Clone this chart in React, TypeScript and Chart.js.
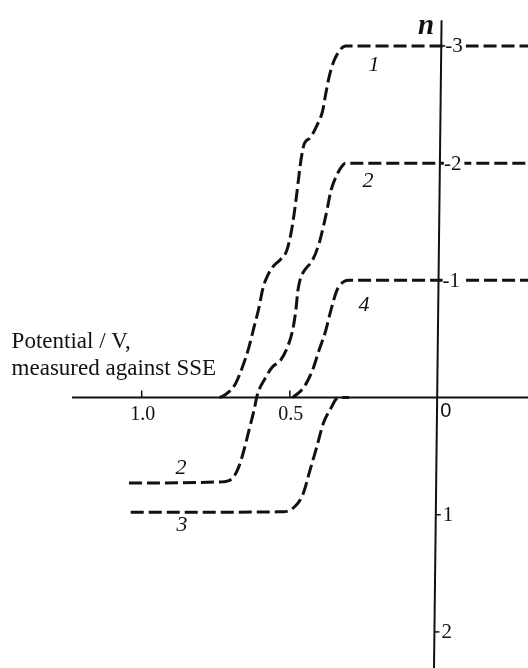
import React, { useEffect, useRef } from "react";
import { Chart, registerables } from "chart.js";

Chart.register(...registerables);

// Potential (V, vs SSE) and n values
const curve1V = [0.737, 0.727, 0.705, 0.683, 0.660, 0.638, 0.621, 0.604, 0.593, 0.582, 0.559, 0.531, 0.511, 0.497, 0.486, 0.477, 0.469, 0.461, 0.452, 0.430, 0.407, 0.390, 0.379, 0.368, 0.356, 0.340, 0.312, -0.31];
const curve1N = [0.0, -0.01, -0.05, -0.12, -0.26, -0.43, -0.60, -0.77, -0.91, -1.00, -1.11, -1.18, -1.25, -1.39, -1.56, -1.73, -1.90, -2.05, -2.16, -2.22, -2.33, -2.44, -2.59, -2.73, -2.84, -2.93, -3.00, -3.00];

const curve2V = [1.043, 0.733, 0.694, 0.672, 0.655, 0.638, 0.621, 0.610, 0.582, 0.559, 0.531, 0.508, 0.491, 0.480, 0.473, 0.466, 0.452, 0.424, 0.402, 0.385, 0.373, 0.362, 0.345, 0.328, 0.312, -0.31];
const curve2N = [0.73, 0.72, 0.69, 0.59, 0.45, 0.28, 0.11, -0.02, -0.17, -0.26, -0.32, -0.43, -0.57, -0.74, -0.91, -1.00, -1.08, -1.17, -1.31, -1.48, -1.62, -1.76, -1.88, -1.96, -2.00, -2.00];

const curve4V = [0.492, 0.475, 0.452, 0.424, 0.402, 0.379, 0.362, 0.342, 0.330, 0.317, 0.300, -0.31];
const curve4N = [0.0, -0.03, -0.09, -0.23, -0.40, -0.57, -0.74, -0.91, -0.96, -0.99, -1.00, -1.00];

const curve3V = [1.037, 0.522, 0.483, 0.455, 0.432, 0.409, 0.387, 0.359, 0.342, 0.320, 0.300];
const curve3N = [0.98, 0.975, 0.93, 0.82, 0.62, 0.42, 0.22, 0.08, 0.01, 0.0, 0.0];

const xTickValues = [1.0, 0.5];
const xTickLabels = ["1.0", "0.5"];
const yTickValues = [-3, -2, -1, 1, 2];
const yTickLabels = ["-3", "-2", "-1", "1", "2"];
const curveNames = ["1", "2", "4", "2", "3"];
const axisTitleLines = ["Potential / V,", "measured against SSE"];
const yAxisName = "n";
const originLabel = "0";

const SERIF = '"Liberation Serif", "Times New Roman", serif';
const SANS = '"Liberation Sans", Arial, sans-serif';
const INK = "#111";

const toPoints = (vs: number[], ns: number[]) => vs.map((v, i) => ({ x: v, y: ns[i] }));

// Anchors (data coords) for the curve-number annotations
const curveNameAnchors = [
  [0.216, -2.837],
  [0.236, -1.847],
  [0.25, -0.789],
  [0.867, 0.602],
  [0.864, 1.088],
];

const overlay = {
  id: "overlay",
  beforeDatasetsDraw(chart: any) {
    const { ctx, scales } = chart;
    const x = scales.x;
    const y = scales.y;
    const y0 = y.getPixelForValue(0);
    const axisX = (n: number) => {
      const topN = -3.22, botN = y.max;
      const topV = -0.012, botV = 0.0135;
      const t = (n - topN) / (botN - topN);
      return x.getPixelForValue(topV + t * (botV - topV));
    };
    ctx.save();
    ctx.strokeStyle = INK;
    ctx.lineCap = "butt";
    // x axis
    ctx.lineWidth = 2;
    ctx.beginPath();
    ctx.moveTo(x.getPixelForValue(1.235), y0);
    ctx.lineTo(x.getPixelForValue(x.min), y0);
    ctx.stroke();
    // y axis
    ctx.beginPath();
    ctx.moveTo(axisX(-3.22), y.getPixelForValue(-3.22));
    ctx.lineTo(axisX(y.max), y.getPixelForValue(y.max));
    ctx.stroke();
    // x ticks
    ctx.lineWidth = 1.5;
    xTickValues.forEach((v) => {
      const px = x.getPixelForValue(v);
      ctx.beginPath();
      ctx.moveTo(px, y0);
      ctx.lineTo(px, y0 - 7);
      ctx.stroke();
    });
    // y ticks
    yTickValues.forEach((n) => {
      const py = y.getPixelForValue(n);
      const ax = axisX(n);
      ctx.beginPath();
      ctx.moveTo(ax, py);
      ctx.lineTo(ax + 5, py);
      ctx.stroke();
    });
    ctx.restore();
  },
  afterDatasetsDraw(chart: any) {
    const { ctx, scales } = chart;
    const x = scales.x;
    const y = scales.y;
    const y0 = y.getPixelForValue(0);
    const axisX = (n: number) => {
      const topN = -3.22, botN = y.max;
      const topV = -0.012, botV = 0.0135;
      const t = (n - topN) / (botN - topN);
      return x.getPixelForValue(topV + t * (botV - topV));
    };
    ctx.save();
    ctx.fillStyle = INK;
    // x tick labels
    ctx.font = `20px ${SERIF}`;
    ctx.textAlign = "center";
    ctx.textBaseline = "middle";
    xTickValues.forEach((v, i) => {
      ctx.fillText(xTickLabels[i], x.getPixelForValue(v) + 1, y0 + 17);
    });
    // origin label
    ctx.font = `20px ${SANS}`;
    ctx.textAlign = "left";
    ctx.fillText(originLabel, axisX(0) + 3, y0 + 14);
    // y tick labels with white backing
    ctx.font = `21px ${SERIF}`;
    yTickLabels.forEach((lab, i) => {
      const n = yTickValues[i];
      const py = y.getPixelForValue(n);
      const lx = axisX(n) + (n < 0 ? 4 : 7);
      const w = ctx.measureText(lab).width;
      ctx.fillStyle = "#fff";
      ctx.fillRect(lx, py - 8, w + 3, 16);
      ctx.fillStyle = INK;
      ctx.fillText(lab, lx, py + 1);
    });
    // curve names
    ctx.font = `italic 22px ${SERIF}`;
    ctx.textAlign = "center";
    curveNames.forEach((name, i) => {
      const [v, n] = curveNameAnchors[i];
      ctx.fillText(name, x.getPixelForValue(v), y.getPixelForValue(n));
    });
    // y axis name
    ctx.font = `bold italic 29px ${SERIF}`;
    ctx.fillText(yAxisName, x.getPixelForValue(0.04), y.getPixelForValue(-3.17));
    // axis title
    ctx.font = `23px ${SERIF}`;
    ctx.textAlign = "left";
    ctx.textBaseline = "alphabetic";
    ctx.fillText(axisTitleLines[0], x.getPixelForValue(1.439), y.getPixelForValue(-0.42));
    ctx.fillText(axisTitleLines[1], x.getPixelForValue(1.439), y.getPixelForValue(-0.192));
    ctx.restore();
  },
};

const lineStyle = {
  borderColor: INK,
  borderWidth: 3,
  borderDash: [13, 5],
  borderCapStyle: "butt" as const,
  pointRadius: 0,
  fill: false,
  cubicInterpolationMode: "monotone" as const,
};

export default function App() {
  const ref = useRef<HTMLCanvasElement | null>(null);
  useEffect(() => {
    document.body.style.margin = "0";
    if (!ref.current) return;
    const chart = new Chart(ref.current, {
      type: "line",
      data: {
        datasets: [
          { label: "1", data: toPoints(curve1V, curve1N), ...lineStyle },
          { label: "2", data: toPoints(curve2V, curve2N), ...lineStyle },
          { label: "4", data: toPoints(curve4V, curve4N), ...lineStyle },
          { label: "3", data: toPoints(curve3V, curve3N), ...lineStyle },
        ],
      },
      options: {
        animation: false,
        responsive: false,
        devicePixelRatio: 1,
        layout: { padding: 0 },
        plugins: { legend: { display: false }, tooltip: { enabled: false } },
        scales: {
          x: { type: "linear", min: -0.3037, max: 1.4782, reverse: true, display: false },
          y: { type: "linear", min: -3.392, max: 2.308, reverse: true, display: false },
        },
      },
      plugins: [overlay],
    });
    return () => chart.destroy();
  }, []);
  return (
    <div style={{ width: 528, height: 668, background: "#fff" }}>
      <canvas ref={ref} width={528} height={668} style={{ display: "block" }} />
    </div>
  );
}
